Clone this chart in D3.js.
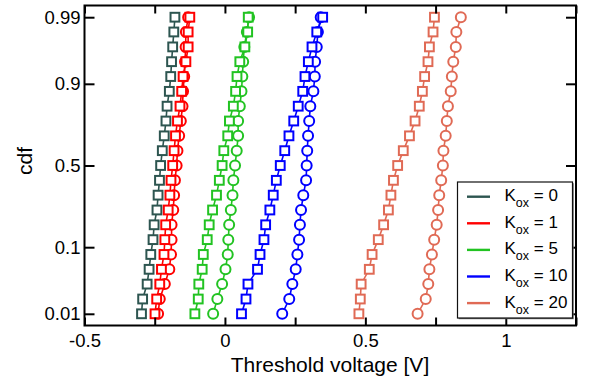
<!DOCTYPE html>
<html>
<head>
<meta charset="utf-8">
<script src="https://cdn.jsdelivr.net/npm/d3@7"></script>
<style>
  html, body { margin: 0; padding: 0; background: #fff; }
  svg { display: block; font-family: "Liberation Sans", Arial, Helvetica, sans-serif; }
</style>
</head>
<body>
<svg id="chart" width="589" height="382"></svg>
<script>
// cumulative probability levels (evenly spaced on the normal-probability axis)
const cdfLevels = [0.01, 0.0181, 0.0314, 0.0517, 0.0814, 0.1224, 0.1761, 0.2426, 0.3209, 0.4080,
  0.5, 0.5920, 0.6791, 0.7574, 0.8239, 0.8776, 0.9186, 0.9483, 0.9686, 0.9819, 0.99];

// threshold voltage [V] at each cdf level; squares = first set, circles = second set
const kox0Squares = [-0.297, -0.293, -0.277, -0.270, -0.264, -0.256, -0.252, -0.242, -0.238, -0.233,
  -0.229, -0.223, -0.216, -0.210, -0.206, -0.198, -0.193, -0.190, -0.186, -0.182, -0.178];
const kox1Circles = [-0.238, -0.232, -0.214, -0.198, -0.192, -0.190, -0.190, -0.184, -0.181, -0.178,
  -0.172, -0.169, -0.163, -0.157, -0.151, -0.149, -0.145, -0.142, -0.140, -0.139, -0.131];
const kox1Squares = [-0.249, -0.243, -0.232, -0.226, -0.217, -0.214, -0.211, -0.202, -0.196, -0.192,
  -0.186, -0.181, -0.176, -0.169, -0.160, -0.154, -0.149, -0.139, -0.131, -0.131, -0.125];
const kox5Circles = [-0.042, -0.027, -0.010, 0.002, 0.010, 0.012, 0.015, 0.021, 0.027, 0.030,
  0.036, 0.042, 0.047, 0.047, 0.053, 0.059, 0.062, 0.065, 0.069, 0.078, 0.086];
const kox5Squares = [-0.107, -0.095, -0.093, -0.081, -0.077, -0.063, -0.056, -0.044, -0.030, -0.020,
  -0.010, -0.004, 0.010, 0.016, 0.030, 0.038, 0.043, 0.053, 0.071, 0.081, 0.083];
const kox10Circles = [0.204, 0.229, 0.240, 0.252, 0.258, 0.264, 0.267, 0.271, 0.279, 0.289,
  0.291, 0.293, 0.296, 0.300, 0.304, 0.315, 0.320, 0.321, 0.327, 0.331, 0.341];
const kox10Squares = [0.059, 0.075, 0.082, 0.116, 0.125, 0.139, 0.145, 0.160, 0.172, 0.183,
  0.197, 0.213, 0.228, 0.245, 0.261, 0.277, 0.285, 0.297, 0.310, 0.327, 0.348];
const kox20Circles = [0.686, 0.715, 0.724, 0.728, 0.737, 0.745, 0.754, 0.759, 0.763, 0.770,
  0.776, 0.778, 0.786, 0.790, 0.794, 0.804, 0.808, 0.813, 0.822, 0.824, 0.840];
const kox20Squares = [0.477, 0.482, 0.485, 0.514, 0.524, 0.546, 0.565, 0.582, 0.591, 0.600,
  0.615, 0.635, 0.657, 0.677, 0.692, 0.703, 0.711, 0.723, 0.728, 0.741, 0.746];

const legendKox = ["0", "1", "5", "10", "20"];
const seriesColors = ["#2d5550", "#ff0000", "#22c322", "#0000ff", "#e06a55"];

const xTicks = [-0.5, -0.25, 0, 0.25, 0.5, 0.75, 1, 1.25];
const xLabelTicks = [-0.5, 0, 0.5, 1];
const yTicks = [0.01, 0.1, 0.5, 0.9, 0.99];

// inverse standard normal CDF (Acklam's rational approximation)
function probit(p) {
  const a = [-39.69683028665376, 220.9460984245205, -275.9285104469687, 138.3577518672690, -30.66479806614716, 2.506628277459239];
  const b = [-54.47609879822406, 161.5858368580409, -155.6989798598866, 66.80131188771972, -13.28068155288572];
  const c = [-0.007784894002430293, -0.3223964580411365, -2.400758277161838, -2.549732539343734, 4.374664141464968, 2.938163982698783];
  const d = [0.007784695709041462, 0.3224671290700398, 2.445134137142996, 3.754408661907416];
  const pl = 0.02425, ph = 1 - pl;
  let q, r;
  if (p < pl) {
    q = Math.sqrt(-2 * Math.log(p));
    return (((((c[0]*q+c[1])*q+c[2])*q+c[3])*q+c[4])*q+c[5]) / ((((d[0]*q+d[1])*q+d[2])*q+d[3])*q+1);
  } else if (p <= ph) {
    q = p - 0.5; r = q*q;
    return (((((a[0]*r+a[1])*r+a[2])*r+a[3])*r+a[4])*r+a[5])*q / (((((b[0]*r+b[1])*r+b[2])*r+b[3])*r+b[4])*r+1);
  } else {
    q = Math.sqrt(-2 * Math.log(1 - p));
    return -(((((c[0]*q+c[1])*q+c[2])*q+c[3])*q+c[4])*q+c[5]) / ((((d[0]*q+d[1])*q+d[2])*q+d[3])*q+1);
  }
}

const svg = d3.select("#chart");
const plot = { left: 84.5, right: 576, top: 5.5, bottom: 325.5 };

const x = d3.scaleLinear().domain([-0.5, 1.25]).range([plot.left, plot.right]);
const z = d3.scaleLinear().domain([-2.51, 2.51]).range([plot.bottom, plot.top]);
const y = p => z(probit(p));

const series = [
  { color: seriesColors[0], squares: kox0Squares, circles: null },
  { color: seriesColors[1], squares: kox1Squares, circles: kox1Circles },
  { color: seriesColors[2], squares: kox5Squares, circles: kox5Circles },
  { color: seriesColors[3], squares: kox10Squares, circles: kox10Circles },
  { color: seriesColors[4], squares: kox20Squares, circles: kox20Circles }
];

const line = d3.line().x(d => x(d.v)).y(d => y(d.p));
const marks = svg.append("g");
const half = 4.4;

series.forEach(s => {
  if (s.circles) {
    const pts = s.circles.map((v, i) => ({ v, p: cdfLevels[i] }));
    marks.append("path").datum(pts).attr("d", line)
      .attr("fill", "none").attr("stroke", s.color).attr("stroke-width", 1.6);
    marks.append("g").selectAll("circle").data(pts).join("circle")
      .attr("cx", d => x(d.v)).attr("cy", d => y(d.p)).attr("r", 5)
      .attr("fill", "#fff").attr("stroke", s.color).attr("stroke-width", 2);
  }
  const pts = s.squares.map((v, i) => ({ v, p: cdfLevels[i] }));
  marks.append("path").datum(pts).attr("d", line)
    .attr("fill", "none").attr("stroke", s.color).attr("stroke-width", 1.6);
  marks.append("g").selectAll("rect").data(pts).join("rect")
    .attr("x", d => x(d.v) - half).attr("y", d => y(d.p) - half)
    .attr("width", half * 2).attr("height", half * 2)
    .attr("fill", "#fff").attr("stroke", s.color).attr("stroke-width", 2);
});

// axes with inward ticks on all four sides
const fmt = d => String(d);
const styleAxis = g => {
  g.select(".domain").remove();
  g.selectAll(".tick line").attr("stroke", "#000").attr("stroke-width", 2);
  g.selectAll("text").attr("fill", "#000").attr("font-size", 18.5)
    .attr("font-family", "'Liberation Sans', Arial, Helvetica, sans-serif");
};

svg.append("g").attr("transform", `translate(0,${plot.bottom})`)
  .call(d3.axisBottom(x).tickValues(xTicks).tickSize(-8).tickPadding(8)
    .tickFormat(d => xLabelTicks.includes(d) ? fmt(d) : ""))
  .call(styleAxis);
svg.append("g").attr("transform", `translate(0,${plot.top})`)
  .call(d3.axisTop(x).tickValues(xTicks).tickSize(-8).tickFormat(""))
  .call(styleAxis);
svg.append("g").attr("transform", `translate(${plot.left},0)`)
  .call(d3.axisLeft(z).tickValues(yTicks.map(probit)).tickSize(-10).tickPadding(4)
    .tickFormat((d, i) => fmt(yTicks[i])))
  .call(styleAxis);
svg.append("g").attr("transform", `translate(${plot.right},0)`)
  .call(d3.axisRight(z).tickValues(yTicks.map(probit)).tickSize(-10).tickFormat(""))
  .call(styleAxis);

svg.append("rect")
  .attr("x", plot.left).attr("y", plot.top)
  .attr("width", plot.right - plot.left).attr("height", plot.bottom - plot.top)
  .attr("fill", "none").attr("stroke", "#000").attr("stroke-width", 2);

// axis titles
svg.append("text").attr("x", 330).attr("y", 371.5).attr("text-anchor", "middle")
  .attr("font-size", 21).attr("fill", "#000").text("Threshold voltage [V]");
svg.append("text").attr("transform", "translate(32,161) rotate(-90)")
  .attr("text-anchor", "middle").attr("font-size", 21).attr("fill", "#000").text("cdf");

// legend
const lg = svg.append("g");
const lx = 457.5, ly = 182, lw = 115, lh = 136;
lg.append("rect").attr("x", lx + 1.2).attr("y", ly + 1.2).attr("width", lw).attr("height", lh)
  .attr("fill", "#666");
lg.append("rect").attr("x", lx).attr("y", ly).attr("width", lw).attr("height", lh)
  .attr("fill", "#fff").attr("stroke", "#111").attr("stroke-width", 1.2);
legendKox.forEach((k, i) => {
  const yy = 196.7 + i * 26.6;
  lg.append("line").attr("x1", 467).attr("x2", 490).attr("y1", yy).attr("y2", yy)
    .attr("stroke", seriesColors[i]).attr("stroke-width", 2.4);
  const t = lg.append("text").attr("x", 504.5).attr("y", yy + 4.5).attr("font-size", 17).attr("fill", "#000");
  t.append("tspan").text("K");
  t.append("tspan").attr("font-size", 12.5).attr("dy", 6).text("ox");
  t.append("tspan").attr("dy", -6).text(" = " + k);
});
</script>
</body>
</html>
